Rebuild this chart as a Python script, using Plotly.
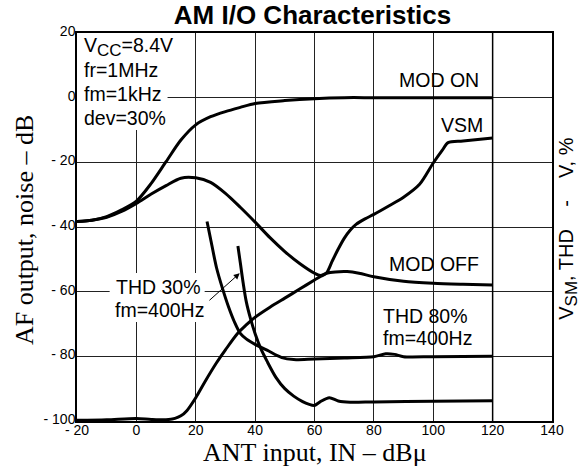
import plotly.graph_objects as go

# ---- measured characteristics (x: ANT input dBµ, y: dB) ----
mod_on_x = [-20, -15, -10, -5, 0, 5, 10, 15, 20, 25, 30, 35, 40, 50, 60, 70, 80, 100, 120]
mod_on_y = [-38.3, -37.9, -36.8, -34.7, -32.0, -26.5, -19.8, -13.1, -8.4, -5.9, -4.3,
            -3.0, -1.8, -0.9, -0.3, 0, 0, 0, 0]

mod_off_x = [-20, -15, -10, -5, 0, 5, 10, 15, 20, 25, 30, 35, 40, 45, 50, 55, 60, 62,
             64, 67, 71, 75, 80, 90, 100, 110, 120]
mod_off_y = [-38.3, -37.9, -37.0, -35.2, -32.7, -29.8, -27.2, -24.9, -24.8, -26.2, -29.6,
             -33.9, -38.5, -43.3, -47.6, -51.3, -54.3, -55.0, -54.3, -53.9, -53.8, -54.3,
             -55.4, -56.8, -57.4, -57.7, -57.9]

vsm_x = [-20, -10, 0, 5, 10, 13, 15, 17, 20, 23, 27, 30, 34, 37, 40, 45, 50, 55, 60, 62,
         64, 66, 68, 70, 72, 74, 77, 80, 85, 90, 95.4, 100, 103, 105, 110, 120]
vsm_y = [-99.8, -99.6, -99.2, -99.5, -99.6, -99.2, -98.4, -96.8, -92.8, -88.0, -82.0,
         -78.0, -73.0, -70.3, -67.9, -64.8, -62.0, -59.2, -56.4, -55.3, -54.3, -50.5,
         -46.8, -43.5, -41.0, -39.2, -37.5, -36.1, -33.5, -30.8, -26.8, -20.2, -16.3,
         -13.9, -13.4, -12.5]

thd80_x = [23.8, 25, 27, 29, 31, 33, 35, 37, 40, 44, 49, 53, 60, 70, 80, 84, 87, 90, 100, 120]
thd80_y = [-38.3, -43.7, -52.6, -59.0, -64.6, -69.3, -72.9, -74.6, -76.3, -78.1, -80.4,
           -81.0, -80.8, -80.5, -80.1, -79.2, -79.4, -80.1, -80.1, -80.0]

thd30_x = [34.2, 35, 36, 37, 38.5, 40, 42, 44, 47, 50, 53, 56, 58, 60, 62, 65, 68, 72, 80,
           100, 120]
thd30_y = [-45.9, -51.0, -57.5, -63.0, -68.5, -73.0, -77.8, -81.5, -86.5, -90.0, -92.3,
           -94.0, -94.8, -95.2, -94.0, -92.8, -93.8, -94.2, -94.1, -93.9, -93.7]

x_ticks = [-20, 0, 20, 40, 60, 80, 100, 120, 140]
x_tick_text = ["- 20", "0", "20", "40", "60", "80", "100", "120", "140"]
y_ticks = [-100, -80, -60, -40, -20, 0, 20]
y_tick_text = ["- 100", "- 80", "- 60", "- 40", "- 20", "0", "20"]

SANS = "Liberation Sans, Arial, sans-serif"
SERIF = "Liberation Serif, Times New Roman, serif"
LABEL_SIZE = 19.5

fig = go.Figure()
for xs, ys in [(mod_on_x, mod_on_y), (mod_off_x, mod_off_y), (vsm_x, vsm_y),
               (thd80_x, thd80_y), (thd30_x, thd30_y)]:
    fig.add_trace(go.Scatter(
        x=xs, y=ys, mode="lines",
        line=dict(color="black", width=3, shape="spline", smoothing=0.8),
        hoverinfo="skip", showlegend=False,
    ))

# white boxes behind the condition text blocks (above grid, below curves)
fig.add_shape(type="rect", x0=-20, x1=10.5, y0=-10, y1=20, xref="x", yref="y",
              fillcolor="white", line_width=0, layer="between")
fig.add_shape(type="rect", x0=-9, x1=23, y0=-69.4, y1=-54.2, xref="x", yref="y",
              fillcolor="white", line_width=0, layer="between")
# end-of-data boundary at 120 dBµ
fig.add_shape(type="line", x0=120, x1=120, y0=-100, y1=20, xref="x", yref="y",
              line=dict(color="black", width=1.5), layer="between")

def label(text, x, y, anchor="left"):
    fig.add_annotation(x=x, y=y, xref="x", yref="y", text=text, showarrow=False,
                       xanchor=anchor, yanchor="middle",
                       font=dict(family=SANS, size=LABEL_SIZE, color="black"))

label("V<sub><span style='font-size:17px'>CC</span></sub>=8.4V", -18.2, 15.6)
label("fr=1MHz", -18.2, 8.6)
label("fm=1kHz", -18.2, 1.2)
label("dev=30%", -18.2, -6.2)
label("MOD ON", 116.2, 5.4, "right")
label("VSM", 117.3, -8.4, "right")
label("MOD OFF", 116.0, -51.4, "right")
label("THD 80%", 82.5, -67.4)
label("fm=400Hz", 82.5, -74.3)
label("THD 30%", 7.5, -58.6, "center")
label("fm=400Hz", 7.8, -65.6, "center")

# arrow from the THD 30% label to its curve
fig.add_annotation(x=34.8, y=-54.3, ax=24.1, ay=-63.1, xref="x", yref="y",
                   axref="x", ayref="y", text="", showarrow=True,
                   arrowhead=2, arrowsize=1.2, arrowwidth=1, arrowcolor="black")

# axis titles
fig.add_annotation(x=-0.1116, y=0.492, xref="paper", yref="paper",
                   text="AF output, noise \u2013 dB", textangle=-90, showarrow=False,
                   xanchor="center", yanchor="middle",
                   font=dict(family=SERIF, size=26, color="black"))
fig.add_annotation(x=0.501, y=-0.08, xref="paper", yref="paper",
                   text="ANT input, IN \u2013 dB\u03bc", showarrow=False,
                   xanchor="center", yanchor="middle",
                   font=dict(family=SERIF, size=26, color="black"))
fig.add_annotation(x=1.032, y=0.496, xref="paper", yref="paper",
                   text="V<sub><span style='font-size:17px'>SM</span></sub>, THD"
                        "\u00a0\u00a0\u00a0\u00a0-\u00a0\u00a0\u00a0\u00a0V, %",
                   textangle=-90, showarrow=False, xanchor="center", yanchor="middle",
                   font=dict(family=SANS, size=20, color="black"))

axis_common = dict(
    showgrid=True, gridcolor="#222222", gridwidth=1,
    showline=True, linecolor="black", linewidth=1.5, mirror=True,
    ticks="", zeroline=False,
    tickfont=dict(family=SANS, size=14, color="black"),
)
fig.update_xaxes(range=[-20, 140], tickvals=x_ticks, ticktext=x_tick_text,
                 ticklabelstandoff=-5, **axis_common)
fig.update_yaxes(range=[-100, 20], tickvals=y_ticks, ticktext=y_tick_text,
                 ticklabelstandoff=-3, ticklabelshift=-2, **axis_common)

fig.update_layout(
    width=582, height=468,
    margin=dict(l=77, r=30, t=33, b=47),
    paper_bgcolor="white", plot_bgcolor="white",
    title=dict(text="<b>AM I/O Characteristics</b>", x=0.537, xanchor="center",
               y=1 - 15.3 / 468, yanchor="middle",
               font=dict(family=SANS, size=26, color="black")),
)

fig.write_html("out.html")
